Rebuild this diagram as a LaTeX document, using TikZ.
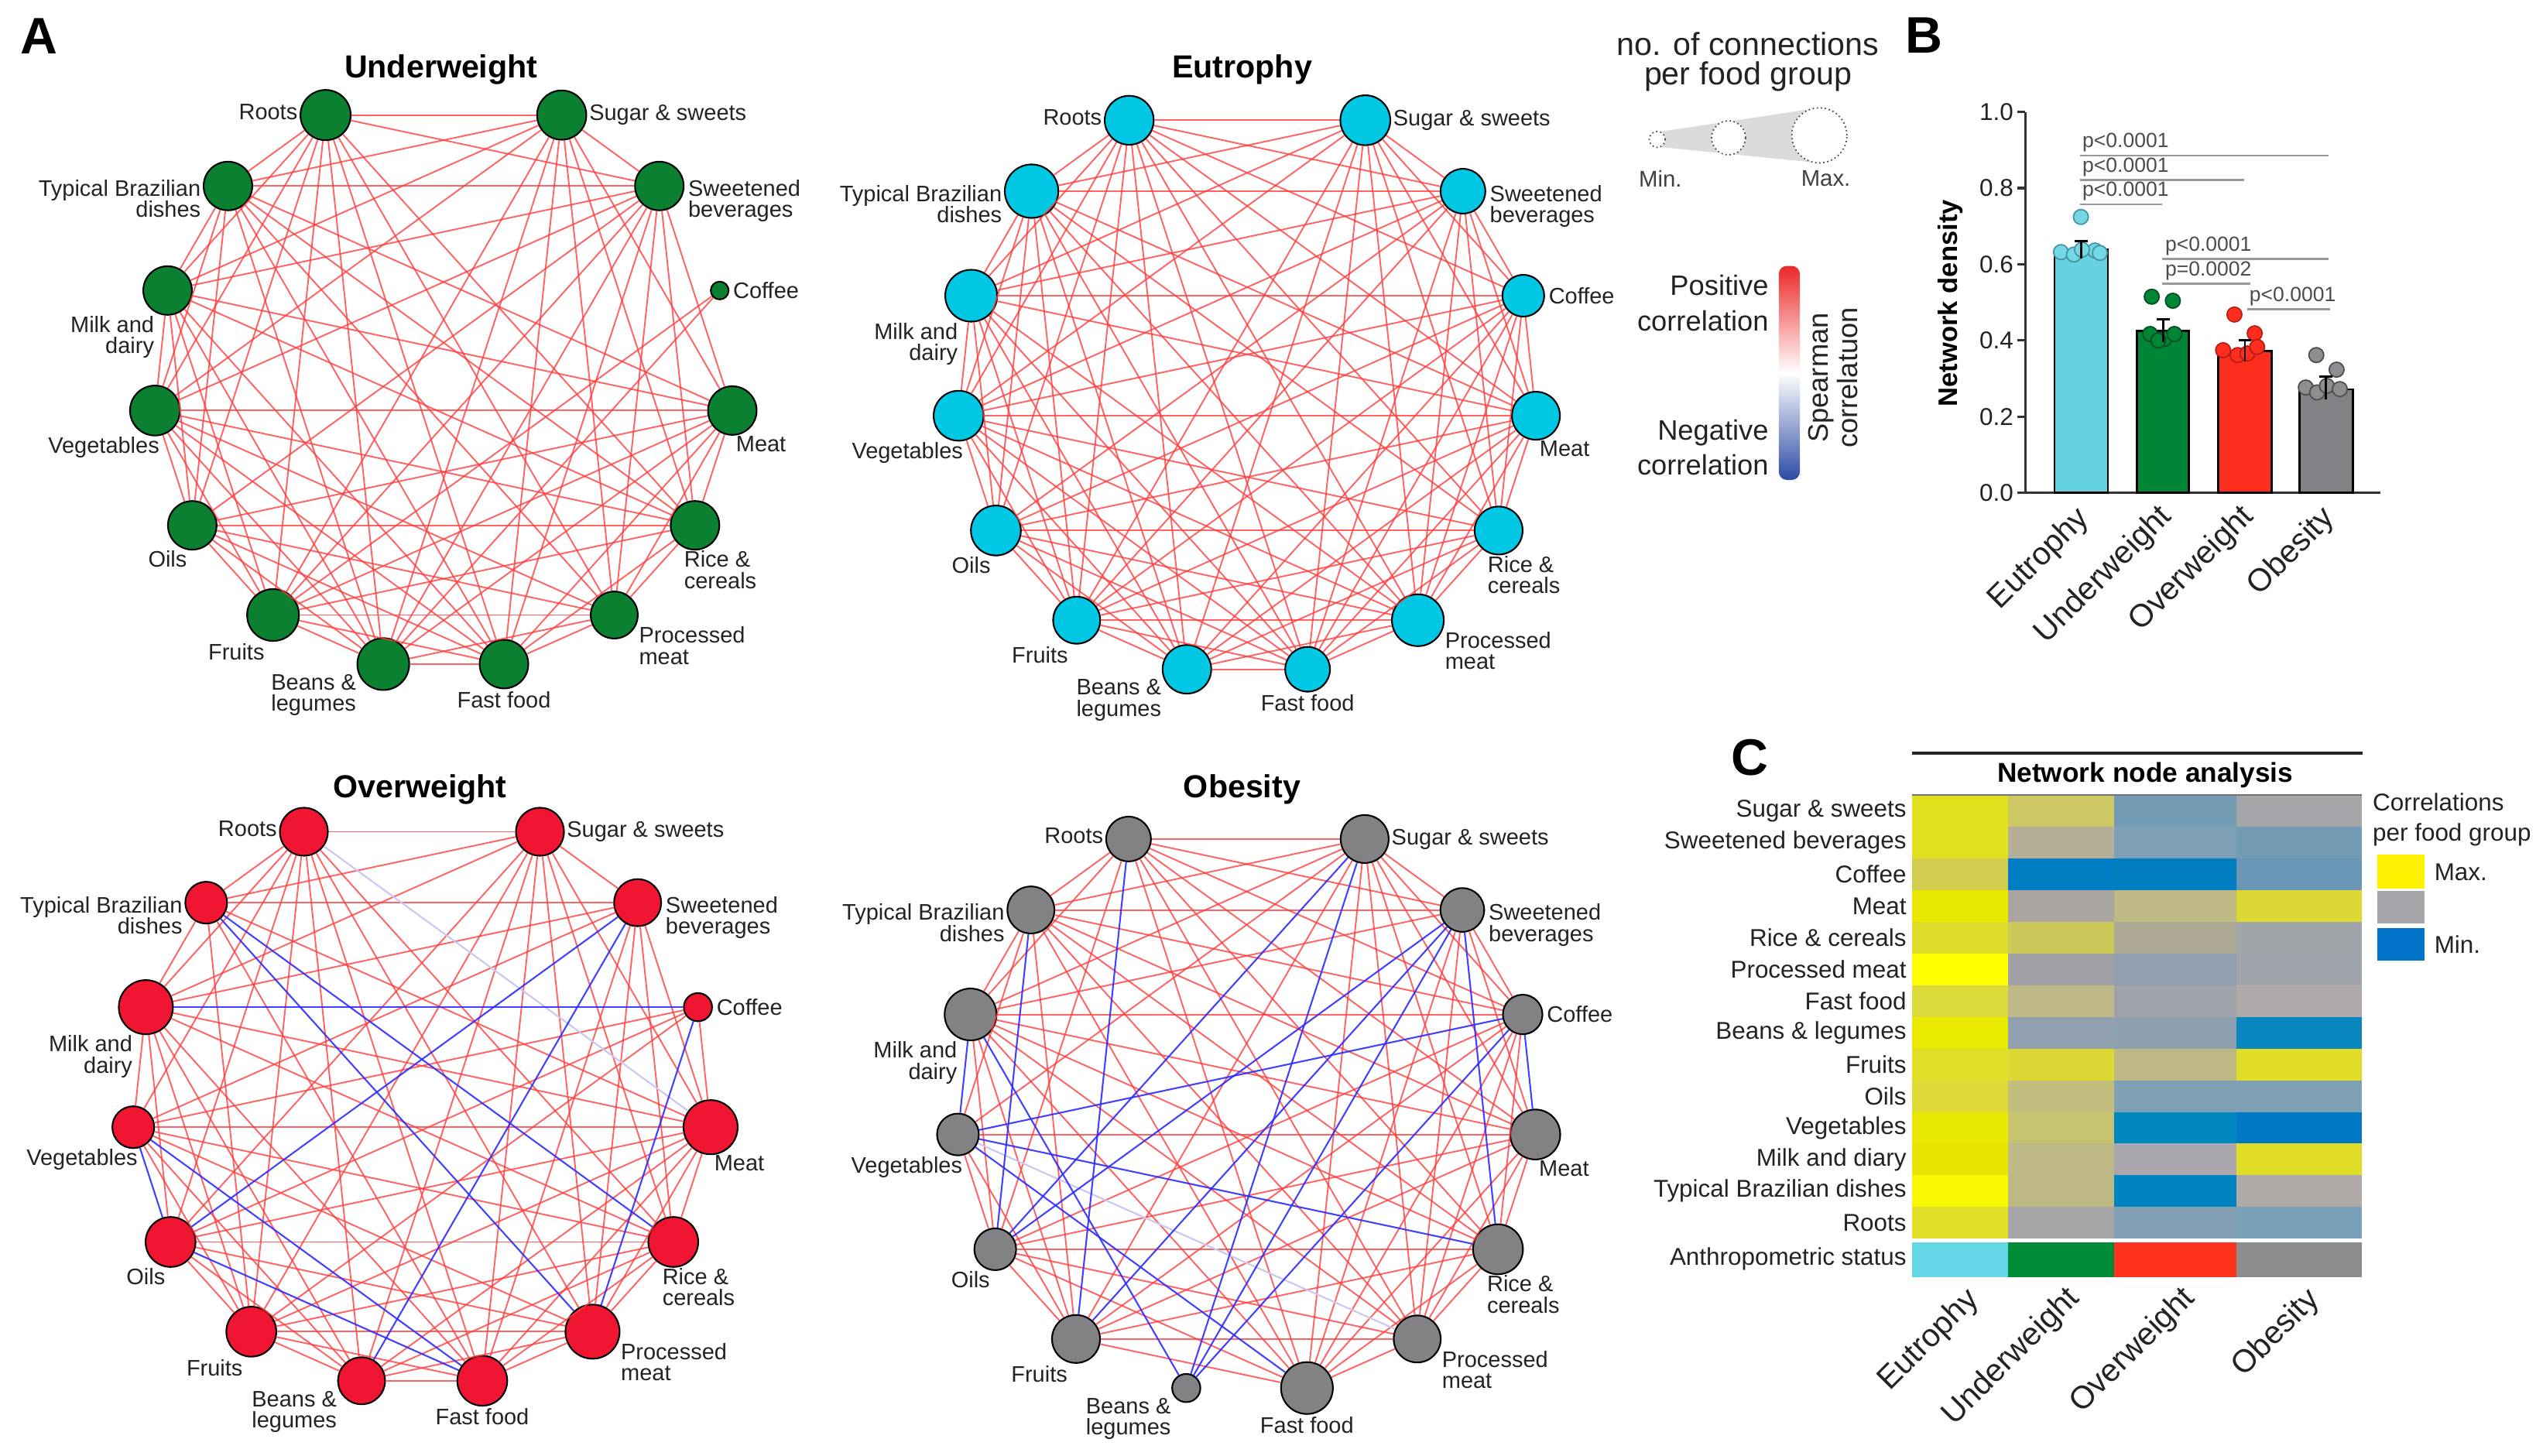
\documentclass[tikz,border=0pt]{standalone}
\usepackage{fontspec}
\setmainfont{Liberation Sans}
\usetikzlibrary{calc}
\definecolor{uwc}{RGB}{10,128,48}
\definecolor{euc}{RGB}{0,200,228}
\definecolor{owc}{RGB}{240,22,50}
\definecolor{obc}{RGB}{130,130,132}
\definecolor{ered}{RGB}{255,60,60}
\definecolor{eblue}{RGB}{45,45,255}
\definecolor{efaint}{RGB}{200,200,242}
\definecolor{txt}{RGB}{35,35,35}
\definecolor{barEU}{RGB}{100,210,225}
\definecolor{barUW}{RGB}{0,133,55}
\definecolor{barOW}{RGB}{255,45,30}
\definecolor{barOB}{RGB}{128,130,133}
\definecolor{cbred}{RGB}{235,40,40}
\definecolor{cbblue}{RGB}{45,75,165}
\definecolor{anEU}{HTML}{64D7E6}
\definecolor{anUW}{HTML}{008C37}
\definecolor{anOW}{HTML}{FF3220}
\definecolor{anOB}{HTML}{8A8C8E}

\tikzset{
  fnode/.style={circle, draw=black, line width=0.6pt, inner sep=0pt},
  lab/.style={font=\fontsize{8.3}{7.8}\selectfont, inner sep=0pt, text=txt},
  ttl/.style={font=\bfseries\fontsize{11.8}{13}\selectfont, inner sep=0pt},
  pletter/.style={font=\bfseries\fontsize{19}{19}\selectfont, inner sep=0pt},
  redge/.style={draw=ered, line width=0.55pt, draw opacity=0.8},
  bedge/.style={draw=eblue, line width=0.6pt, draw opacity=0.9},
  fedge/.style={draw=efaint, line width=0.6pt},
  legtxt/.style={font=\fontsize{11.8}{10.8}\selectfont, inner sep=0pt, text=txt, align=center},
  smalltxt/.style={font=\fontsize{8.4}{9}\selectfont, inner sep=0pt, text=black!75},
  cbtxt/.style={font=\fontsize{10.4}{13}\selectfont, inner sep=0pt, text=txt, align=right},
  axisl/.style={line width=0.9pt, draw=black!80},
  ytk/.style={font=\fontsize{9}{10}\selectfont, inner sep=0pt, text=txt},
  xtk/.style={font=\fontsize{11.8}{13}\selectfont, inner sep=0pt, text=txt, rotate=45, anchor=north east},
  sig/.style={draw=black!40, line width=0.7pt},
  pv/.style={font=\fontsize{7.6}{8}\selectfont, inner sep=0pt, text=black!70, anchor=base west},
  barst/.style={draw=black, line width=0.8pt},
  dotst/.style={circle, inner sep=0pt, minimum size=5.5pt, line width=0.5pt},
  rowlab/.style={font=\fontsize{9}{10}\selectfont, inner sep=0pt, text=txt, anchor=east},
  cleg/.style={font=\fontsize{9}{11}\selectfont, inner sep=0pt, text=txt},
  lcirc/.style={circle, draw=black!70, densely dotted, line width=0.5pt, fill=white, inner sep=0pt},
}

% nodes of one network: #1 prefix, #2 cx, #3 cy, #4 fill, #5 list index/radius
\newcommand{\netnodes}[5]{%
  \foreach \ii/\rr in {#5} {%
    \pgfmathsetmacro\ang{-(90+24*\ii)}%
    \pgfmathsetmacro\dd{1.2*\rr}%
    \node[fnode, fill=#4, minimum size=\dd pt] (#1\ii) at ($(#2,#3)+(\ang:179)$) {};
  }%
}
% red edges: all pairs except listed ones
\newcommand{\netedges}[2]{%
  \foreach \p/\q in {#2} {\expandafter\gdef\csname nx#1-\p-\q\endcsname{}}%
  \foreach \p in {1,...,13} {%
    \pgfmathtruncatemacro\pn{\p+1}%
    \foreach \q in {\pn,...,14} {%
      \ifcsname nx#1-\p-\q\endcsname\else
        \draw[redge] (#1\p) -- (#1\q);
      \fi
    }%
  }%
}
\newcommand{\netlabels}[1]{%
  \node[lab, anchor=east] (#1L1) at ($(#11.west)+(-1,-2)$) {Roots};
  \node[lab, anchor=north east, align=right] (#1L2) at ($(#12.west)+(-1,-4)$) {Typical Brazilian\\dishes};
  \node[lab, anchor=north east, align=right] (#1L3) at ($(#13.south)+(-8,0)$) {Milk and\\dairy};
  \node[lab, anchor=north east] (#1L4) at ($(#14.south)+(3,0)$) {Vegetables};
  \node[lab, anchor=north east] (#1L5) at ($(#15.south)+(-3,0)$) {Oils};
  \node[lab, anchor=north east] (#1L6) at ($(#16.south)+(-5,1)$) {Fruits};
  \node[lab, anchor=north east, align=center] (#1L7) at ($(#17.west)+(0,6)$) {Beans \&\\legumes};
  \node[lab, anchor=north] (#1L8) at ($(#18.south)+(0,1)$) {Fast food};
  \node[lab, anchor=north west, align=left] (#1L9) at ($(#19.east)+(0,7)$) {Processed\\meat};
  \node[lab, anchor=north west, align=left] (#1L10) at ($(#110.south)+(-7,0)$) {Rice \&\\cereals};
  \node[lab, anchor=north west] (#1L11) at ($(#111.south)+(2,0)$) {Meat};
  \node[lab, anchor=west] (#1L12) at ($(#112.east)+(2,0)$) {Coffee};
  \node[lab, anchor=north west, align=left] (#1L13) at ($(#113.east)+(2,-4)$) {Sweetened\\beverages};
  \node[lab, anchor=west] (#1L14) at ($(#114.east)+(1,0)$) {Sugar \& sweets};
}

\begin{document}
\begin{tikzpicture}[x=0.6pt, y=-0.6pt]
\useasboundingbox[fill=white] (0,0) rectangle (1564,898);

% ---------------- Panel A ----------------
\node[pletter] (A) at (24,22.5) {A};

% Underweight
\node[ttl] (tuw) at (272,43) {Underweight};
\netnodes{uw}{273.6}{234.5}{uwc}{1/15.5, 2/15, 3/15, 4/15.4, 5/15, 6/16, 7/16, 8/15, 9/14.5, 10/15, 11/15, 12/5.5, 13/15, 14/15.2}
\netedges{uw}{1/12, 2/12, 3/12, 4/12, 5/12, 8/12, 9/12, 10/12, 11/12, 12/13, 12/14, 1/11, 3/9, 5/14, 7/10, 2/6}
\netlabels{uw}

% Eutrophy
\node[ttl] (teu) at (766,43) {Eutrophy};
\netnodes{eu}{769.2}{237.7}{euc}{1/15.1, 2/16.5, 3/16, 4/15.4, 5/15.4, 6/14.5, 7/15, 8/13.8, 9/16, 10/14.8, 11/14.8, 12/12.9, 13/13.8, 14/15.4}
\netedges{eu}{2/12, 5/14, 7/13, 3/10}
\netlabels{eu}

% Overweight
\node[ttl] (tow) at (259,487) {Overweight};
\netnodes{ow}{260.2}{676.5}{owc}{1/14.8, 2/12.9, 3/16.7, 4/12.9, 5/15.4, 6/15.4, 7/14.5, 8/15.4, 9/16.7, 10/15.4, 11/16.7, 12/8.7, 13/14.5, 14/14.8}
\netedges{ow}{1/12, 1/13, 2/4, 2/7, 2/12, 4/14, 7/12, 8/12, 10/12, 12/13, 12/14, 2/5, 6/13, 3/9, 2/9, 2/10, 3/12, 5/13, 7/13, 9/12, 4/5, 4/8, 5/8, 1/11}
\draw[fedge] (ow1) -- (ow11);
\foreach \p/\q in {2/9, 2/10, 3/12, 5/13, 7/13, 9/12, 4/5, 4/8, 5/8} {\draw[bedge] (ow\p) -- (ow\q);}
\netlabels{ow}

% Obesity
\node[ttl] (tob) at (766,487) {Obesity};
\netnodes{ob}{768.8}{681}{obc}{1/13.8, 2/14.5, 3/16, 4/12.9, 5/12.9, 6/14.8, 7/8.7, 8/16, 9/14.5, 10/15.4, 11/15.4, 12/12.2, 13/13.5, 14/14.8}
\netedges{ob}{1/4, 1/7, 2/7, 4/7, 4/13, 5/7, 6/7, 7/8, 7/9, 7/10, 7/11, 1/6, 2/5, 3/4, 3/7, 5/14, 5/13, 6/13, 7/14, 7/13, 7/12, 4/12, 10/13, 11/12, 4/10, 4/8, 4/9}
\draw[fedge] (ob4) -- (ob9);
\foreach \p/\q in {1/6, 2/5, 3/4, 3/7, 5/14, 5/13, 6/13, 7/14, 7/13, 7/12, 4/12, 10/13, 11/12, 4/10, 4/8} {\draw[bedge] (ob\p) -- (ob\q);}
\netlabels{ob}

% ---------------- Legends ----------------
\node[legtxt] (legt) at (1078,38) {no. of connections\\per food group};
\fill[gray!28] (1022,81.5) -- (1122,66.5) -- (1122,100.5) -- (1022,90.5) -- cycle;
\node[lcirc, minimum size=5.9pt] (cmin) at (1022,86) {};
\node[lcirc, minimum size=12.6pt] (cmid) at (1066,85) {};
\node[lcirc, minimum size=20.4pt] (cmax) at (1122,83.5) {};
\node[smalltxt] (lmin) at (1024,110) {Min.};
\node[smalltxt] (lmax) at (1126,110) {Max.};

\node[cbtxt, anchor=east] (lpos) at (1091,187) {Positive\\correlation};
\node[cbtxt, anchor=east] (lneg) at (1091,276) {Negative\\correlation};
\shade[top color=cbred, bottom color=cbblue, middle color=white, rounded corners=3pt] (1097,164) rectangle (1110,296);
\node[font=\fontsize{10.4}{9.4}\selectfont, inner sep=0pt, text=txt, rotate=90, align=center] (lsp) at (1130.5,233) {Spearman\\correlatuon};

% ---------------- Panel B ----------------
\node[pletter] (B) at (1186.5,22) {B};
\foreach \v/\t/\k in {0/0.0/0, 0.2/0.2/1, 0.4/0.4/2, 0.6/0.6/3, 0.8/0.8/4, 1/1.0/5} {
  \pgfmathsetmacro\yy{304-235*\v}
  \draw[axisl] (1244,\yy) -- (1249,\yy);
  \node[ytk, anchor=east] (yt\k) at (1242,\yy) {\t};
}
\draw[axisl] (1249,69) -- (1249,304) -- (1468,304);
\node[font=\bfseries\fontsize{9.9}{11}\selectfont, inner sep=0pt, rotate=90] (ylab) at (1203,187) {Network density};

\draw[barst, fill=barEU] (1267,304) rectangle (1300,154.1);
\draw[barst, fill=barUW] (1318,304) rectangle (1350,204.1);
\draw[barst, fill=barOW] (1368,304) rectangle (1401,216.6);
\draw[barst, fill=barOB] (1418,304) rectangle (1451,240.1);

\foreach \k/\x/\y in {1/1283.3/133.8, 2/1271/155.5, 3/1279/157, 4/1292/154.5, 5/1295/156, 6/1284/154}
  {\node[dotst, fill=barEU!90!white, draw=barEU!70!black] (de\k) at (\x,\y) {};}
\foreach \k/\x/\y in {1/1327/183, 2/1340/185.5, 3/1326/206, 4/1335/209, 5/1341/206, 6/1331/210}
  {\node[dotst, fill=barUW, draw=barUW!60!black] (du\k) at (\x,\y) {};}
\foreach \k/\x/\y in {1/1378/194, 2/1390.5/205.6, 3/1371/216, 4/1380/219, 5/1386/218, 6/1392/214}
  {\node[dotst, fill=barOW, draw=barOW!70!black] (do\k) at (\x,\y) {};}
\foreach \k/\x/\y in {1/1428.5/219, 2/1441/228, 3/1422/239, 4/1429/242, 5/1435/238, 6/1443/240}
  {\node[dotst, fill=barOB!90!white, draw=barOB!60!black] (db\k) at (\x,\y) {};}

\foreach \x/\ya/\yb in {1283.5/148.9/159.5, 1334/197.1/211.2, 1384.5/210/222.9, 1434.5/232.3/246.4} {
  \draw[line width=0.8pt] (\x,\ya) -- (\x,\yb);
  \draw[line width=0.8pt] ($(\x,\ya)+(-4,0)$) -- ($(\x,\ya)+(4,0)$);
}

\draw[sig] (1283,96) -- (1436,96);   \node[pv] (p1) at (1284,91) {p<0.0001};
\draw[sig] (1283,111) -- (1384,111); \node[pv] (p2) at (1284,106) {p<0.0001};
\draw[sig] (1283,126) -- (1333.5,126); \node[pv] (p3) at (1284,121) {p<0.0001};
\draw[sig] (1333.5,159.7) -- (1436,159.7); \node[pv] (p4) at (1335,155) {p<0.0001};
\draw[sig] (1333.5,175) -- (1388,175); \node[pv] (p5) at (1335,170) {p=0.0002};
\draw[sig] (1386,190.8) -- (1437,190.8); \node[pv] (p6) at (1387,186) {p<0.0001};

\node[xtk] (bx1) at (1279,310) {Eutrophy};
\node[xtk] (bx2) at (1330,309) {Underweight};
\node[xtk] (bx3) at (1380.5,309) {Overweight};
\node[xtk] (bx4) at (1430.5,310) {Obesity};

% ---------------- Panel C ----------------
\node[pletter] (C) at (1079,467) {C};
\draw[line width=1pt, black!85] (1179,464.5) -- (1457,464.5);
\node[font=\bfseries\fontsize{10.1}{11}\selectfont, inner sep=0pt] (nna) at (1323,478) {Network node analysis};

\foreach \r/\nm/\ca/\cb/\cc/\cd in {
  1/Sugar \& sweets/E1E11E/CDC864/739BB4/A5A5AA,
  2/Sweetened beverages/E1E120/B4AF96/7DA0B4/739BB4,
  3/Coffee/D2CD50/007DC3/007DBE/6996B4,
  4/Meat/E8E800/AAA5A0/BEB982/DCD732,
  5/Rice \& cereals/DEDC28/CDC85A/AFAA96/A0A5AA,
  6/Processed meat/FFFF00/A0A0A5/91A0AF/A0A5AC,
  7/Fast food/DCDA3A/BEB987/A0A2AA/AFAAAA,
  8/Beans \& legumes/EAEA00/91A0AF/8CA0AF/0A87BE,
  9/Fruits/E0DE28/DCD732/BEB982/E1DC28,
  10/Oils/DEDA36/C3BE7D/7DA0B4/7DA0B4,
  11/Vegetables/E8E800/C8C36E/0087BE/0078C3,
  12/Milk and diary/E8E600/BEB987/AAA8AC/E1DC28,
  13/Typical Brazilian dishes/F8F800/BEB982/0082BE/AFAAA8,
  14/Roots/E0DE28/A5A5A8/82A0B4/78A0B9} {
  \pgfmathsetmacro\ya{490.5+19.53*(\r-1)}
  \pgfmathsetmacro\yb{\ya+19.63}
  \pgfmathsetmacro\yc{\ya+9.77}
  \definecolor{hc}{HTML}{\ca}\fill[hc] (1179,\ya) rectangle (1238.6,\yb);
  \definecolor{hc}{HTML}{\cb}\fill[hc] (1238.5,\ya) rectangle (1304.1,\yb);
  \definecolor{hc}{HTML}{\cc}\fill[hc] (1304,\ya) rectangle (1379.1,\yb);
  \definecolor{hc}{HTML}{\cd}\fill[hc] (1379,\ya) rectangle (1456.6,\yb);
  \node[rowlab] (hr\r) at (1176,\yc) {\nm};
}
\draw[black!55, line width=0.6pt] (1179,490.5) -- (1456.6,490.5);
\fill[anEU] (1179,766) rectangle (1238.6,787.5);
\fill[anUW] (1238.5,766) rectangle (1304.1,787.5);
\fill[anOW] (1304,766) rectangle (1379.1,787.5);
\fill[anOB] (1379,766) rectangle (1456.6,787.5);
\node[rowlab] (hran) at (1176,776.5) {Anthropometric status};

\node[xtk] (cx1) at (1211,792) {Eutrophy};
\node[xtk] (cx2) at (1273,791) {Underweight};
\node[xtk] (cx3) at (1344,791) {Overweight};
\node[xtk] (cx4) at (1421,792) {Obesity};

\node[cleg, anchor=west, align=left] (cl) at (1463,505.5) {Correlations\\per food group};
\fill[yellow] (1466,527) rectangle (1495,548);
\fill[fill={rgb,255:red,165;green,165;blue,170}] (1466,549.5) rectangle (1495,569.5);
\fill[fill={rgb,255:red,0;green,115;blue,200}] (1466,572.5) rectangle (1495,592.7);
\node[cleg, anchor=west] (cmx) at (1501,538) {Max.};
\node[cleg, anchor=west] (cmn) at (1501,582.5) {Min.};
\end{tikzpicture}
\end{document}
